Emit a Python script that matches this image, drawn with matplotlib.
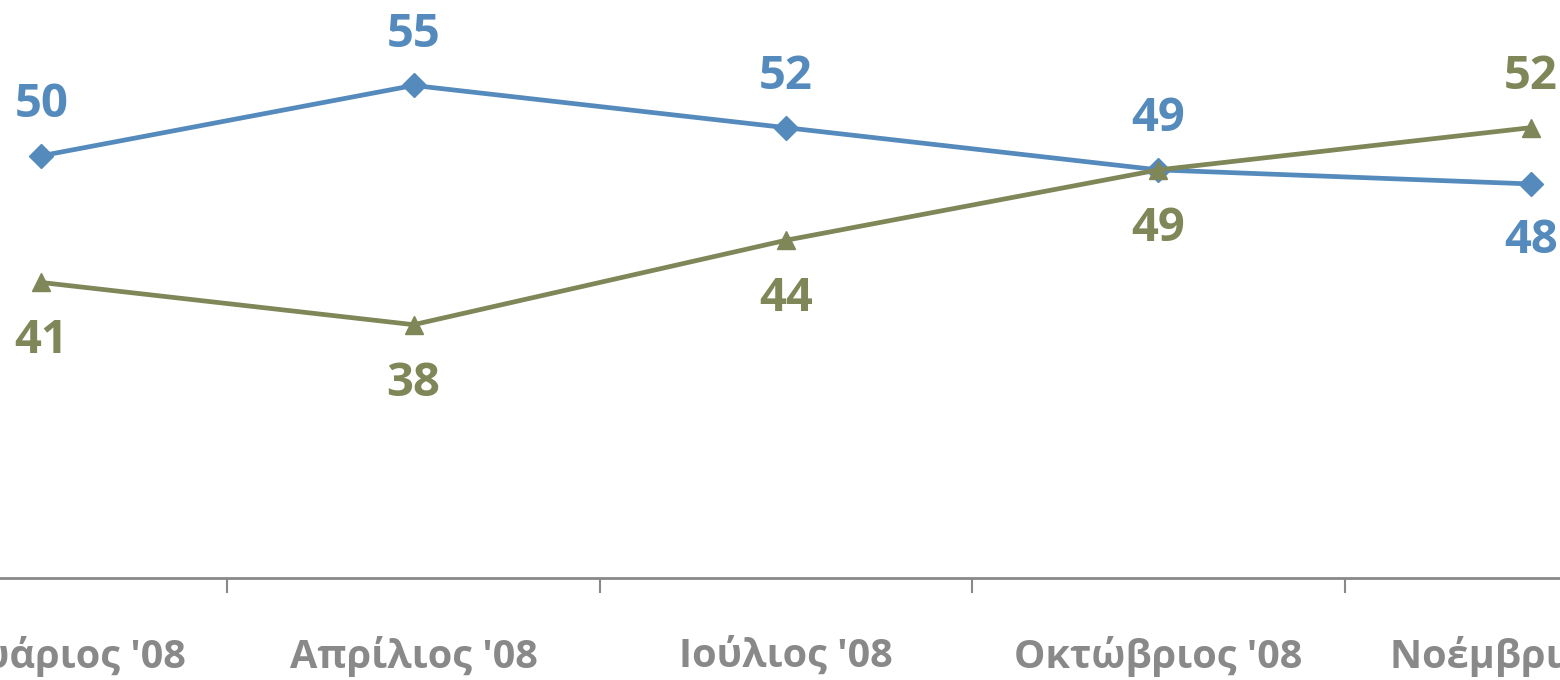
import matplotlib
matplotlib.use("Agg")
import matplotlib.pyplot as plt

categories = ["Ιανουάριος '08", "Απρίλιος '08", "Ιούλιος '08", "Οκτώβριος '08", "Νοέμβριος '08"]
series_blue = [50, 55, 52, 49, 48]
series_green = [41, 38, 44, 49, 52]
blue_label_above = [True, True, True, True, False]
green_label_above = [False, False, False, False, True]

plt.rcParams['font.family'] = ['Open Sans', 'DejaVu Sans']

BLUE = "#558ABD"
GREEN = "#7F8658"
GRAY = "#898989"

fig = plt.figure(figsize=(15.6, 6.8), dpi=100)
# axes extends beyond figure to reproduce the cropped look
left_px, right_px = -145, 1717
bottom_px = 680 - 578
ax = fig.add_axes([left_px / 1560, bottom_px / 680, (right_px - left_px) / 1560, (680 - bottom_px) / 680])
ymin = 20
ymax = 50 + 155 / 14
ax.set_ylim(ymin, ymax)
x = list(range(len(categories)))
ax.set_xlim(-0.5, len(categories) - 0.5)

ax.plot(x, series_blue, color=BLUE, lw=3.4, marker="D", ms=12.5, mec=BLUE, mfc=BLUE, zorder=3)
ax.plot(x, series_green, color=GREEN, lw=3.4, marker="^", ms=13.5, mec=GREEN, mfc=GREEN, zorder=4)

for xi, v, up in zip(x, series_blue, blue_label_above):
    ax.annotate(str(v), (xi, v), xytext=(0, 37 if up else -41), textcoords="offset points",
                ha="center", va="center", color=BLUE, fontsize=34, fontweight="bold")
for xi, v, up in zip(x, series_green, green_label_above):
    ax.annotate(str(v), (xi, v), xytext=(0, 37 if up else -42), textcoords="offset points",
                ha="center", va="center", color=GREEN, fontsize=34, fontweight="bold")

for s in ["top", "right", "left"]:
    ax.spines[s].set_visible(False)
ax.spines["bottom"].set_color(GRAY)
ax.spines["bottom"].set_linewidth(2)
ax.set_yticks([])
ax.set_xticks(x)
ax.set_xticklabels(categories, fontsize=28.5, fontweight="bold", color=GRAY)
ax.tick_params(axis="x", length=0, pad=42)
ax.set_xticks([i + 0.5 for i in range(-1, len(categories))], minor=True)
ax.tick_params(axis="x", which="minor", length=11, width=1.5, color=GRAY, direction="out")

fig.savefig("out.png", dpi=100)
